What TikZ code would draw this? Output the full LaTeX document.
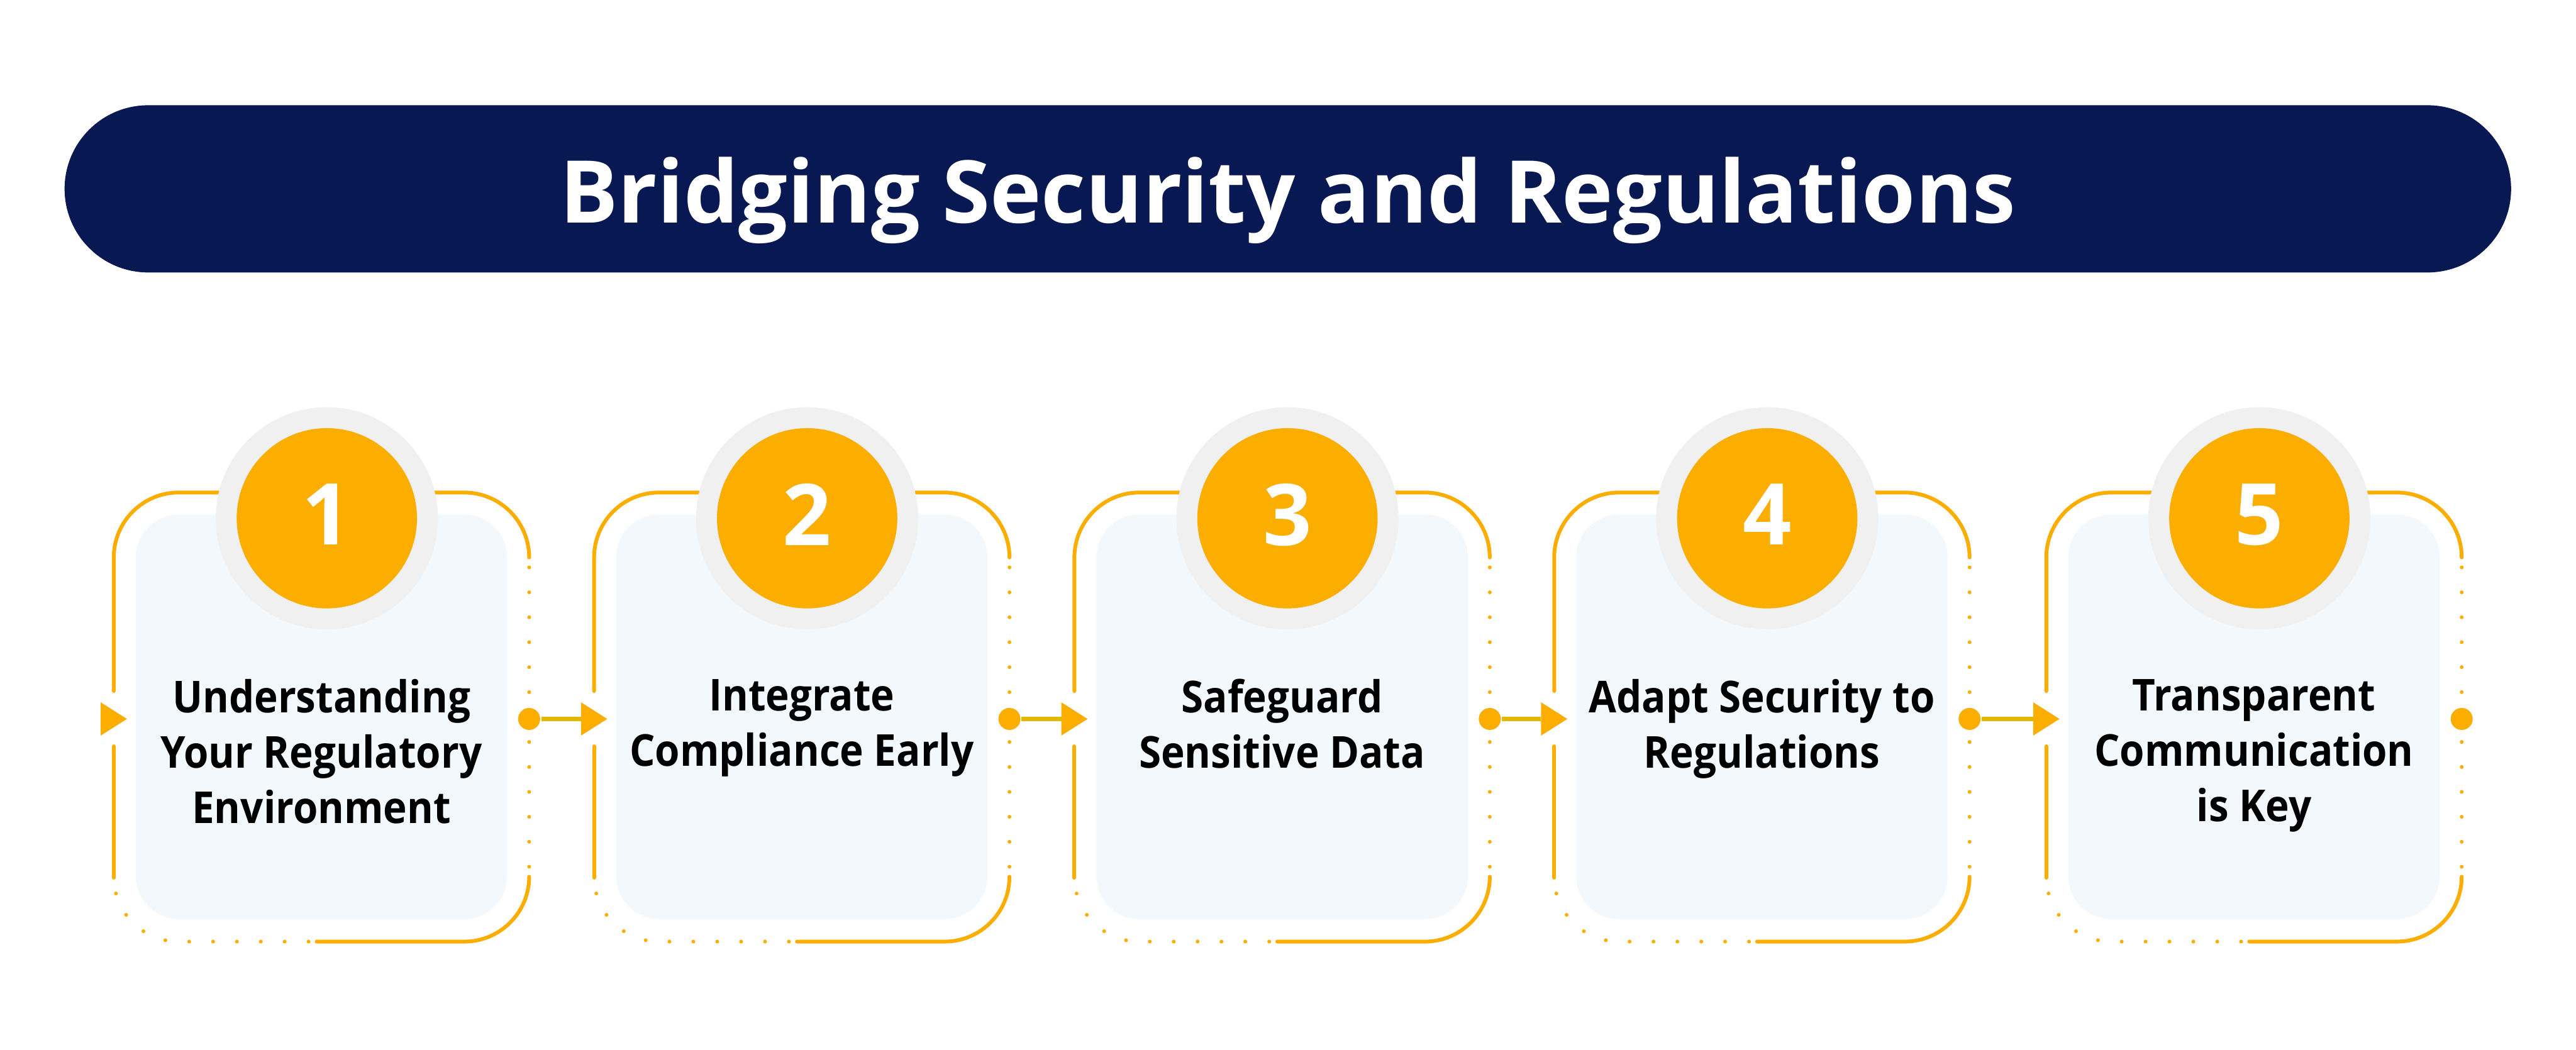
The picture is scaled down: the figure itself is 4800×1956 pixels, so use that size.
\documentclass[tikz,border=0pt]{standalone}
\usepackage{fontspec}
\setmainfont{Open Sans}[BoldFont = {Open Sans Bold}]
\newfontfamily\cardfont{Open Sans}[BoldFont = {Open Sans Bold}, FakeStretch = 0.91]
\usetikzlibrary{shapes.misc}

\definecolor{navy}{RGB}{8,24,82}
\definecolor{amber}{RGB}{251,173,0}
\definecolor{linkgold}{RGB}{229,184,0}
\definecolor{ringgray}{RGB}{240,240,240}
\definecolor{cardfill}{RGB}{243,248,252}

\begin{document}
\begin{tikzpicture}[x = 0.1pt, y = -0.1pt,
    outline/.style = {draw = amber, line width = 0.7pt, line cap = round},
    dotline/.style = {outline, dash pattern = on 0pt off #1},
    ring/.style = {circle, fill = ringgray, minimum size = 41.4pt, inner sep = 0pt},
    badge/.style = {circle, fill = amber, minimum size = 33.6pt, inner sep = 0pt,
                    text = white, text depth = 1.4pt,
                    font = \fontsize{15.9pt}{16pt}\selectfont\bfseries},
    port/.style = {circle, fill = amber, minimum size = 4.1pt, inner sep = 0pt},
    link/.style = {draw = linkgold, line width = 0.9pt},
    steptext/.style = {align = center, anchor = north, inner sep = 0pt,
                       font = \cardfont\fontsize{8.2pt}{10.3pt}\selectfont\bfseries},
    titlebar/.style = {rounded rectangle, fill = navy, inner sep = 0pt,
                       minimum width = 455.9pt, minimum height = 31.17pt,
                       text = white, text height = 12.8pt, text depth = 0pt,
                       font = \fontsize{16.15pt}{16pt}\selectfont\bfseries}]
      \useasboundingbox (0,0) rectangle (4800,1956);
      \fill [white] (0,0) rectangle (4800,1956);
      \node [titlebar] (title) at (2399.7,352) {Bridging Security and Regulations};
      \foreach \n/\L/\txt in {1/212/{Understanding\\Your Regulatory\\Environment},
                              2/1107/{Integrate\\Compliance Early},
                              3/2002/{Safeguard\\Sensitive Data},
                              4/2896/{Adapt Security to\\Regulations},
                              5/3813/{Transparent\\Communication\\is Key}} {
        \pgfmathsetmacro\R{\L + 774}
        \draw [outline, rounded corners = 12.1pt] (\R,1039) -- (\R,918) -- (\L,918) -- (\L,1288);
        \draw [outline] (\L,1391) -- (\L,1636);
        \draw [outline, rounded corners = 12.1pt] (\R,1634) -- (\R,1755) -- (\L + 378,1755);
        \draw [dotline = 4.65pt] (\R,1057.5) -- (\R,1616);
        \draw [dotline = 4.45pt, rounded corners = 12.1pt] (\L + 363,1755) -- (\L,1755) -- (\L,1634);
        \fill [cardfill, rounded corners = 8pt] (\L + 41,959) rectangle (\R - 41,1713);
        \node [ring] (ring\n) at (\L + 397,966) {};
        \node [badge] (badge\n) at (ring\n) {\n};
        \fill [amber] (\L - 24.4,1309) -- (\L + 24.5,1340) -- (\L - 24.4,1371) -- cycle;
        \coordinate (in\n) at (\L - 24.4,1340);
        \node [port] (out\n) at (\R,1340) {};
        \node [steptext] (text\n) at (\L + 387,1264) {\txt};
      }
      \foreach \a/\b in {1/2, 2/3, 3/4, 4/5}
        \draw [link] (out\a) -- (in\b);
    \end{tikzpicture}
\end{document}
